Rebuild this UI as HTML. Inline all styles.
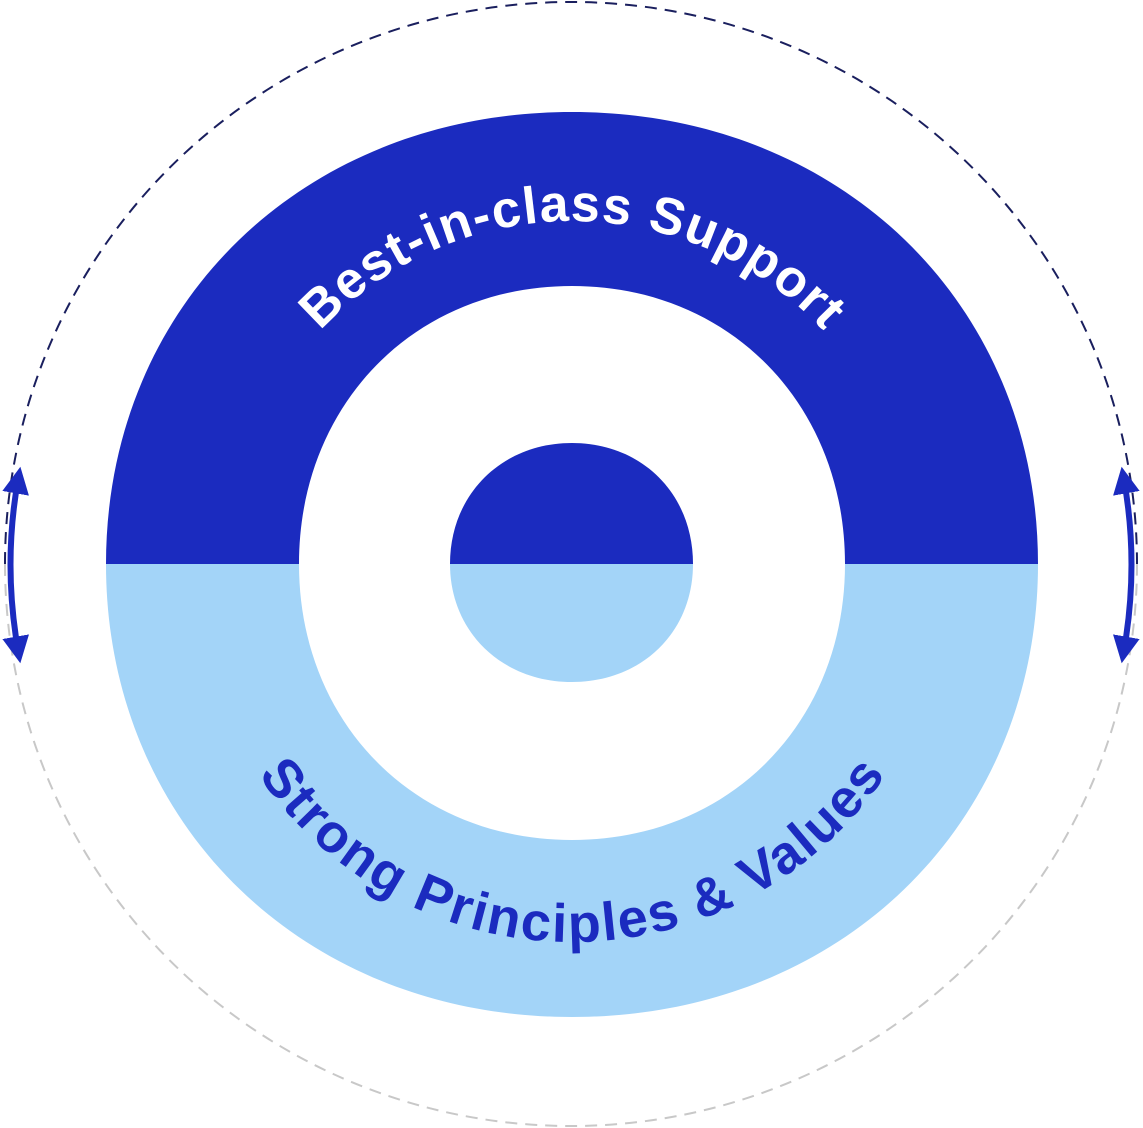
<!DOCTYPE html>
<html><head><style>html,body{margin:0;padding:0;background:#fff;}svg{display:block}</style></head>
<body>
<svg width="1143" height="1128" viewBox="0 0 1143 1128" xmlns="http://www.w3.org/2000/svg">
<defs>
<marker id="ah" viewBox="0 0 10 10" refX="5" refY="5" markerWidth="4.5" markerHeight="4.5" orient="auto-start-reverse"><path d="M0,0 L10,5 L0,10 z" fill="#1b2bbf"/></marker>
<path id="tp" d="M229,564 A343,343 0 0 1 915,564"/>
<path id="bp" d="M194,564 A378,378 0 0 0 950,564"/>
</defs>
<path d="M5,564 A566,562 0 0 1 1137,564" fill="none" stroke="#1a1f5e" stroke-width="2" stroke-dasharray="12 8"/>
<path d="M5,564 A566,562 0 0 0 1137,564" fill="none" stroke="#c8c8c8" stroke-width="2" stroke-dasharray="12 8"/>
<path d="M106,564 C106,304 304,112 572,112 C840,112 1038,304 1038,564 L845,564 C845,404 729,286 572,286 C415,286 299,404 299,564 Z" fill="#1b2bbf"/>
<path d="M106,564 C106,824 304,1017 572,1017 C840,1017 1038,824 1038,564 L845,564 C845,723 729,840 572,840 C415,840 299,723 299,564 Z" fill="#a3d4f8"/>
<path d="M450,564 C450,494 502,443 572,443 C642,443 693,494 693,564 Z" fill="#1b2bbf"/>
<path d="M450,564 C450,632 502,682 572,682 C642,682 693,632 693,564 Z" fill="#a3d4f8"/>
<path d="M18,480 Q3,564 18,650" fill="none" stroke="#1b2bbf" stroke-width="6" marker-start="url(#ah)" marker-end="url(#ah)"/>
<path d="M1124,480 Q1139,564 1124,650" fill="none" stroke="#1b2bbf" stroke-width="6" marker-start="url(#ah)" marker-end="url(#ah)"/>
<text font-family="Liberation Sans, sans-serif" font-weight="bold" font-size="52" fill="#fff"><textPath href="#tp" startOffset="50%" text-anchor="middle" textLength="565" lengthAdjust="spacing">Best-in-class Support</textPath></text>
<text font-family="Liberation Sans, sans-serif" font-weight="bold" font-size="54" fill="#1b2bbf"><textPath href="#bp" startOffset="50%" text-anchor="middle" textLength="740" lengthAdjust="spacing">Strong Principles &amp; Values</textPath></text>
</svg>
</body></html>
